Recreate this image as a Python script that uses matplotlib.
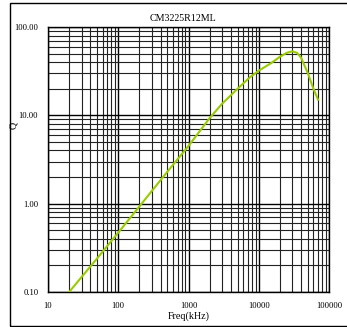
import matplotlib
matplotlib.use("Agg")
import matplotlib.pyplot as plt
from matplotlib.patches import Rectangle
from matplotlib.ticker import FixedLocator, FixedFormatter, LogLocator, NullFormatter

# Q vs frequency
freq_khz = [20, 50, 100, 200, 500, 1000, 2000, 3000, 5000, 7500, 10000,
            15000, 20000, 25000, 30000, 35000, 40000, 50000, 60000, 70000]
q_vals = [0.1, 0.24, 0.47, 0.93, 2.3, 4.5, 9.3, 13.5, 20, 27, 32,
          39, 46, 51, 53, 51, 45, 30, 20, 15]

x_ticks = [10, 100, 1000, 10000, 100000]
x_labels = ["10", "100", "1000", "10000", "100000"]
y_ticks = [0.1, 1, 10, 100]
y_labels = ["0.10", "1.00", "10.00", "100.00"]

plt.rcParams['font.family'] = ['Liberation Serif', 'DejaVu Serif']

fig = plt.figure(figsize=(3.47, 3.27), dpi=100)
ax = fig.add_axes([48/347, 1 - 292/327, (329-48)/347, (292-27)/327])

# outer frame (right side runs off the image)
fig.patches.append(Rectangle((10/347, 1/327), 1.2, 323/327, transform=fig.transFigure,
                             fill=False, edgecolor='black', linewidth=1.0))

ax.plot(freq_khz, q_vals, color='#99cc00', linewidth=1.5, zorder=5)

ax.set_xscale('log')
ax.set_yscale('log')
ax.set_xlim(10, 100000)
ax.set_ylim(0.1, 100)

ax.xaxis.set_major_locator(FixedLocator(x_ticks))
ax.xaxis.set_major_formatter(FixedFormatter(x_labels))
ax.yaxis.set_major_locator(FixedLocator(y_ticks))
ax.yaxis.set_major_formatter(FixedFormatter(y_labels))
ax.xaxis.set_minor_locator(LogLocator(base=10, subs=range(2, 10)))
ax.yaxis.set_minor_locator(LogLocator(base=10, subs=range(2, 10)))
ax.xaxis.set_minor_formatter(NullFormatter())
ax.yaxis.set_minor_formatter(NullFormatter())

ax.grid(True, which='major', color='black', linewidth=1.0)
ax.grid(True, which='minor', color='#222222', linewidth=0.8)
ax.tick_params(which='both', length=0, labelsize=6.2, pad=7)

for s in ax.spines.values():
    s.set_linewidth(1.0)

ax.set_title("CM3225R12ML", fontsize=7.2, pad=4, x=0.48)
ax.set_xlabel("Freq(kHz)", fontsize=7.2, labelpad=1)
# the Q label sits just under the 10.00 tick label
ax.set_ylabel("Q", fontsize=7.2)
ax.yaxis.set_label_coords((18 - 48) / 281, (292 - 125) / 265)

fig.savefig("out.png", dpi=100)
